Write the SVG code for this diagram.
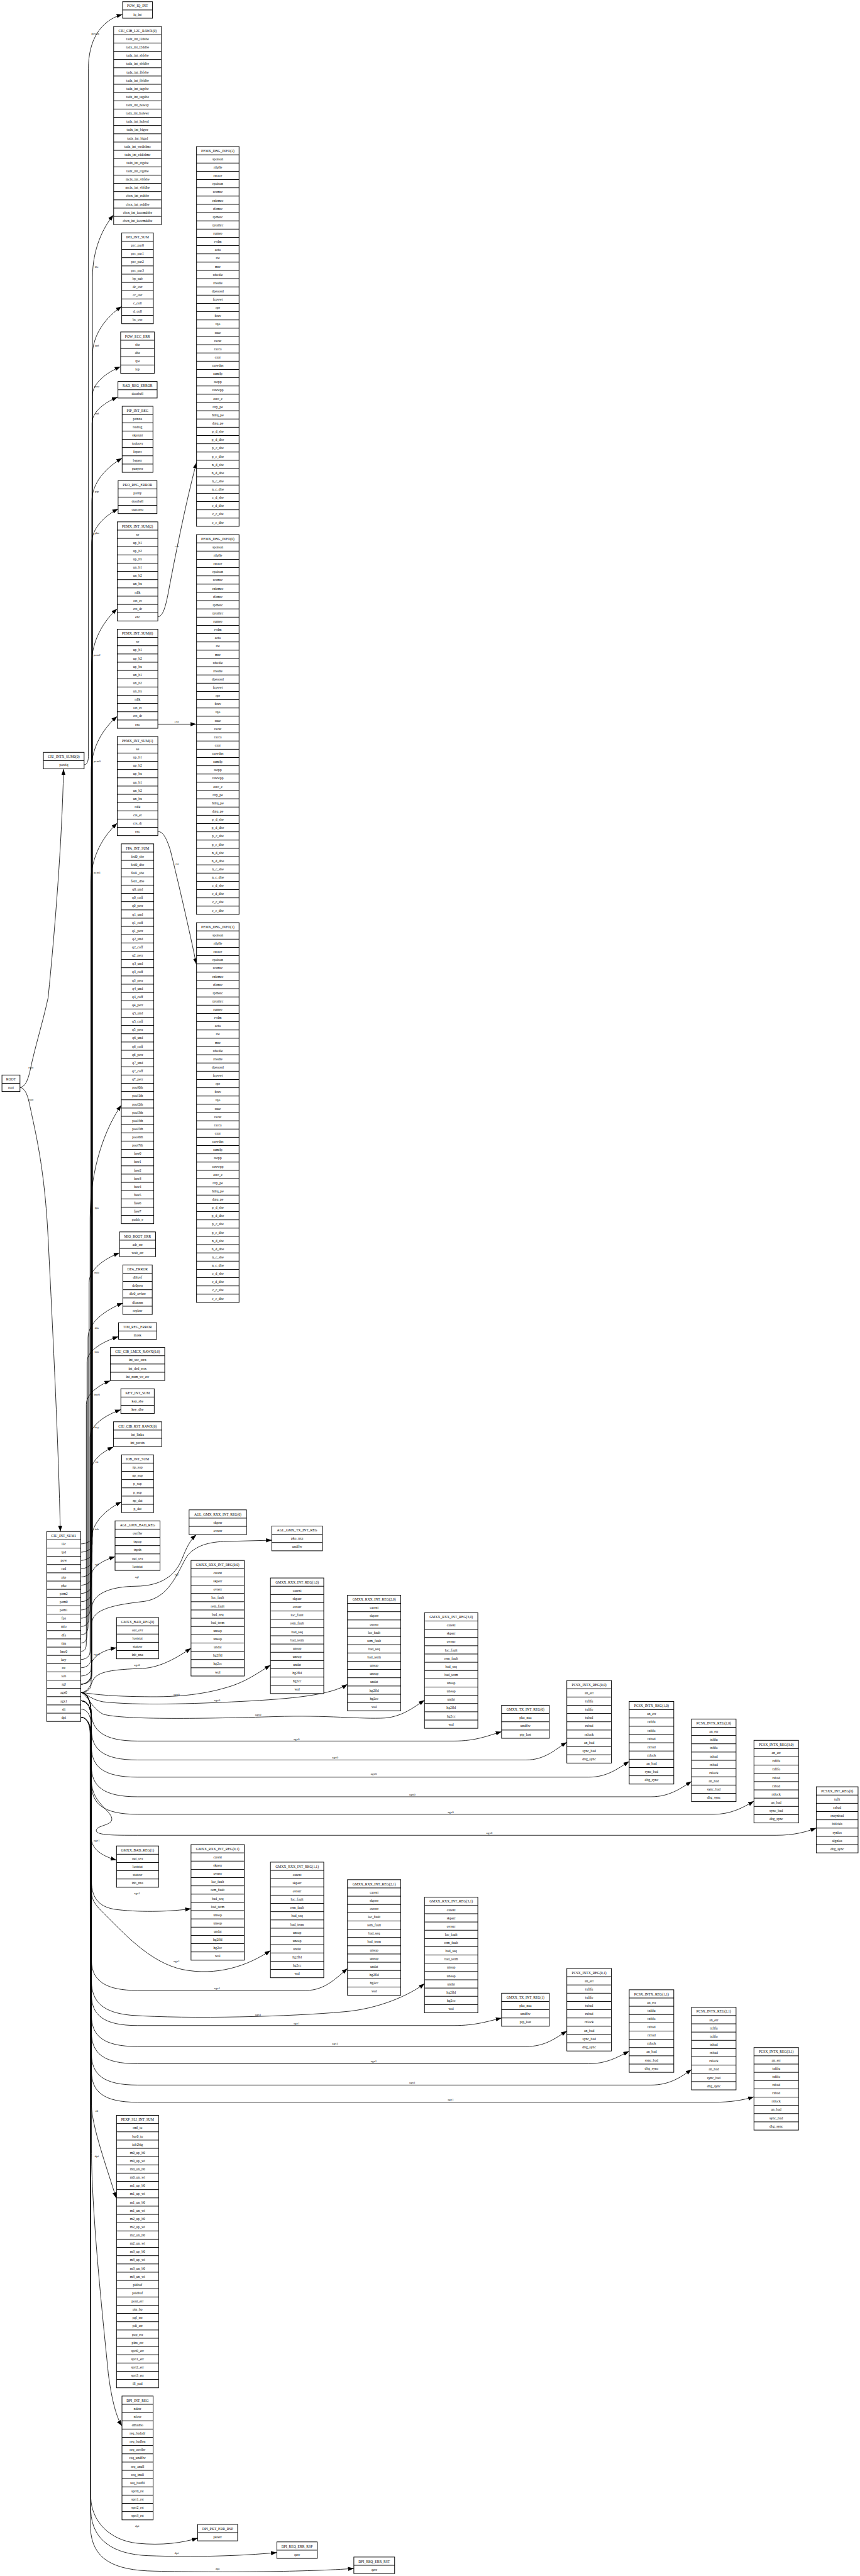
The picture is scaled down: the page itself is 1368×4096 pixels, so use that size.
<svg xmlns="http://www.w3.org/2000/svg" width="1368" height="4096" viewBox="0 0 1368 4096">
<style>
.b{fill:none;stroke:#000;stroke-width:1.8}
.f{fill:#fff;stroke:#000;stroke-width:1.8}
.e{fill:none;stroke:#000;stroke-width:1.5}
text{font-family:"Liberation Serif","Times New Roman",serif;font-size:10.3px;text-anchor:middle;fill:#000}
text.l{font-size:9px}
</style>
<defs>
<marker id="ah" markerUnits="userSpaceOnUse" markerWidth="17" markerHeight="12" refX="17" refY="6" orient="auto"><path d="M0,0L17,6L0,12z" fill="#000"/></marker>
</defs>
<rect width="1368" height="4096" fill="#fff"/>
<g transform="scale(0.547)">
<g id="edges">
<path class="e" marker-end="url(#ah)" d="M244.6,2223 C252,2223 257,2215 257,2198 L257,200 C257,120 290,60 356.2,42"/>
<path class="e" marker-end="url(#ah)" d="M58,3161 C72,3159 80,3145 88,3110 C100,3050 125,2970 140,2900 C160,2700 180,2450 184.8,2236"/>
<path class="e" marker-end="url(#ah)" d="M58,3161 C72,3163 80,3180 87,3215 C105,3300 130,3400 140,3600 C155,3900 170,4200 175.4,4452"/>
<path class="e" marker-end="url(#ah)" d="M234.7,4488 C246,4488 269,4482 269,4464 L269,806 C269,724.5 299.6,661 330.3,624.8"/>
<path class="e" marker-end="url(#ah)" d="M234.7,4512 C246,4512 268.5,4506 268.5,4488 L268.5,1035 C268.5,970.1 311.3,919.6 354,890.8"/>
<path class="e" marker-end="url(#ah)" d="M234.7,4536 C246,4536 268,4530 268,4512 L268,1153 C268,1113.8 309.3,1083.3 350.6,1065.9"/>
<path class="e" marker-end="url(#ah)" d="M234.7,4560 C246,4560 267.5,4554 267.5,4536 L267.5,1231 C267.5,1196.5 305,1169.6 342.4,1154.3"/>
<path class="e" marker-end="url(#ah)" d="M234.7,4584 C246,4584 267,4578 267,4560 L267,1458 C267,1401.3 311.2,1357.1 355.4,1331.9"/>
<path class="e" marker-end="url(#ah)" d="M234.7,4608 C246,4608 266.5,4602 266.5,4584 L266.5,1580 C266.5,1534.6 305.2,1499.3 343.8,1479.1"/>
<path class="e" marker-end="url(#ah)" d="M234.7,4632 C246,4632 266,4626 266,4608 L266,1934 C266,1860.1 303.5,1802.6 340.9,1769.8"/>
<path class="e" marker-end="url(#ah)" d="M234.7,4656 C246,4656 265,4650 265,4632 L265,2242 C265,2170.1 303.1,2114.2 341.2,2082.3"/>
<path class="e" marker-end="url(#ah)" d="M234.7,4680 C246,4680 264,4674 264,4656 L264,2567 C264,2488.6 302.6,2427.6 341.2,2392.8"/>
<path class="e" marker-end="url(#ah)" d="M234.7,4704 C246,4704 262,4698 262,4680 L262,3541 C262,3393.2 307.4,3278.2 352.7,3212.5"/>
<path class="e" marker-end="url(#ah)" d="M234.7,4728 C246,4728 259,4722 259,4704 L259,3729 C259,3689.8 303.3,3659.2 347.6,3641.8"/>
<path class="e" marker-end="url(#ah)" d="M234.7,4752 C246,4752 256,4746 256,4728 L256,3889 C256,3843.5 306.6,3808 357.2,3787.8"/>
<path class="e" marker-end="url(#ah)" d="M234.7,4776 C246,4776 253,4770 253,4752 L253,3959 C253,3925.9 298.7,3900.1 344.4,3885.4"/>
<path class="e" marker-end="url(#ah)" d="M234.7,4800 C246,4800 251,4794 251,4776 L251,4083 C251,4051.7 285.9,4027.4 320.8,4013.5"/>
<path class="e" marker-end="url(#ah)" d="M234.7,4824 C246,4824 262,4818 262,4800 L262,4178 C262,4141.9 306.7,4113.8 351.4,4097.7"/>
<path class="e" marker-end="url(#ah)" d="M234.7,4848 C246,4848 264,4842 264,4824 L264,4279 C264,4246.2 296.9,4220.7 329.7,4206.1"/>
<path class="e" marker-end="url(#ah)" d="M234.7,4872 C246,4872 266,4866 266,4848 L266,4475 C266,4425.8 309.7,4387.5 353.3,4365.6"/>
<path class="e" marker-end="url(#ah)" d="M234.7,4896 C246,4896 267,4890 267,4872 L267,4577 C267,4553.6 300.9,4535.4 334.8,4525"/>
<path class="e" marker-end="url(#ah)" d="M234.7,4896 C250,4896 266,4885 266,4862 L266,4680 C266,4632 320,4612 395,4611 C470,4610 510,4580 530,4530 C542,4500 552,4478 570.8,4461.3"/>
<path class="e" marker-end="url(#ah)" d="M234.7,4896 C250,4896 267,4885 267,4862 L267,4720 C267,4678 330,4665 420,4655 C490,4645 515,4575 540,4530 C560,4497 600,4483 650,4481 L790.8,4477.2"/>
<path class="e" marker-end="url(#ah)" d="M234.7,4920 C246,4920 265,4914 265,4896 L265,4845 C265,4815 300,4797 338.7,4789.7"/>
<path class="e" marker-end="url(#ah)" d="M234.7,4920 C250,4920 262,4905 270,4885 C282,4858 330,4853 414,4850 C470,4847 520,4815 555.5,4791"/>
<path class="e" marker-end="url(#ah)" d="M234.7,4920 C260,4922 300,4931 420,4932 C520,4934 600,4925 676,4900 C720,4885 755,4860 786.4,4840.7"/>
<path class="e" marker-end="url(#ah)" d="M234.7,4920 C252,4922 262,4940 300,4947 C400,4958 560,4953 700,4946 C850,4938 960,4928 1010.7,4896"/>
<path class="e" marker-end="url(#ah)" d="M234.7,4920 C252,4922 265,4965 300,4983 C360,5000 600,4996 800,4990 C950,4985 1050,4998 1120,4994 C1170,4990 1205,4962 1234.7,4942"/>
<path class="e" marker-end="url(#ah)" d="M234.7,4920 C252,4920 264,4940 265,4975 C266,5030 300,5061 400,5061 L1320,5061 C1385,5061 1420,5045 1458.7,5033.7"/>
<path class="e" marker-end="url(#ah)" d="M234.7,4920 C252,4920 264,4940 265,4980 L266,5030 C267,5085 300,5116 400,5116 L1530,5116 C1585,5116 1615,5085 1648.5,5064.3"/>
<path class="e" marker-end="url(#ah)" d="M234.7,4920 C252,4920 264,4940 265,4980 L266,5080 C267,5135 300,5166 400,5166 L1712,5166 C1765,5166 1795,5142 1829.7,5120.4"/>
<path class="e" marker-end="url(#ah)" d="M234.7,4920 C252,4920 264,4940 265,4980 L266,5137 C267,5192 300,5223 400,5223 L1893,5223 C1945,5223 1978,5200 2011.1,5178.3"/>
<path class="e" marker-end="url(#ah)" d="M234.7,4920 C252,4920 264,4940 265,4980 L266,5188 C267,5243 300,5274 400,5274 L2075,5274 C2125,5274 2160,5255 2192.4,5235.7"/>
<path class="e" marker-end="url(#ah)" d="M234.7,4920 C252,4920 264,4940 265,4980 L266,5180 C268,5240 322,5262 325,5286 C328,5308 278,5305 280,5322 C282,5335 330,5335 400,5335 L2257,5335 C2310,5335 2345,5325 2373.7,5313.8"/>
<path class="e" marker-end="url(#ah)" d="M234.7,4944 C252,4944 264,4960 265,4990 L265,5340 C266,5378 300,5396 338.7,5407"/>
<path class="e" marker-end="url(#ah)" d="M234.7,4944 C252,4944 264,4960 265,4990 L266,5470 C267,5520 290,5545 340,5551 C420,5560 500,5556 555.5,5548.6"/>
<path class="e" marker-end="url(#ah)" d="M234.7,4944 C252,4944 264,4960 265,4990 L266,5500 C267,5530 285,5545 310,5570 C370,5630 440,5705 530,5725 C630,5745 720,5715 786.4,5669.8"/>
<path class="e" marker-end="url(#ah)" d="M234.7,4944 C252,4944 264,4960 265,4990 L266,5700 C267,5760 310,5786 400,5786 L890,5786 C945,5786 980,5748 1010.7,5722"/>
<path class="e" marker-end="url(#ah)" d="M234.7,4944 C252,4944 264,4960 265,4990 L266,5760 C267,5820 300,5850 380,5858 C550,5870 850,5862 1000,5848 C1100,5840 1190,5800 1234.7,5766"/>
<path class="e" marker-end="url(#ah)" d="M234.7,4944 C252,4944 264,4960 265,4990 L266,5800 C267,5857 300,5888 400,5888 L1320,5888 C1385,5888 1420,5875 1458.7,5866.3"/>
<path class="e" marker-end="url(#ah)" d="M234.7,4944 C252,4944 264,4960 265,4990 L266,5860 C267,5918 300,5949 400,5949 L1530,5949 C1585,5949 1615,5925 1648.5,5903.8"/>
<path class="e" marker-end="url(#ah)" d="M234.7,4944 C252,4944 264,4960 265,4990 L266,5910 C267,5968 300,5999 400,5999 L1712,5999 C1765,5999 1795,5980 1829.7,5962.7"/>
<path class="e" marker-end="url(#ah)" d="M234.7,4944 C252,4944 264,4960 265,4990 L266,5972 C267,6030 300,6061 400,6061 L1893,6061 C1945,6061 1978,6040 2011.1,6015.6"/>
<path class="e" marker-end="url(#ah)" d="M234.7,4944 C252,4944 264,4960 265,4990 L266,6022 C267,6080 300,6111 400,6111 L2075,6111 C2125,6111 2160,6105 2192.4,6095.2"/>
<path class="e" marker-end="url(#ah)" d="M234.7,4968 C252,4968 264,4985 265,5010 L266,6120 C267,6180 310,6300 338,6389.8"/>
<path class="e" marker-end="url(#ah)" d="M234.7,4992 C252,4992 264,5010 265,5040 L266,6260 C268,6450 300,6750 315,6900 C325,6980 340,7030 354.9,7052"/>
<path class="e" marker-end="url(#ah)" d="M234.7,4992 C252,4992 263,5010 264,5040 L264,7260 C266,7330 320,7385 400,7393 C470,7400 530,7392 574.9,7378"/>
<path class="e" marker-end="url(#ah)" d="M234.7,4992 C252,4992 262,5010 263,5040 L264,7300 C268,7385 330,7425 430,7429 C560,7434 700,7430 805.1,7420"/>
<path class="e" marker-end="url(#ah)" d="M234.7,4992 C252,4992 261,5010 262,5040 L263,7350 C268,7440 330,7472 450,7474 C650,7478 900,7476 1029,7466.2"/>
<path class="e" marker-end="url(#ah)" d="M458.7,1793 C472,1793 480,1770 488,1730 C505,1640 540,1460 571.6,1344.3"/>
<path class="e" marker-end="url(#ah)" d="M458.5,2105 L571,2105"/>
<path class="e" marker-end="url(#ah)" d="M458.5,2417 C472,2417 482,2430 495,2470 C515,2550 550,2700 571,2803"/>
<text class="l" x="277" y="100">powiq</text>
<text class="l" x="90" y="3106">root</text>
<text class="l" x="90" y="3200">root</text>
<text class="l" x="281" y="779">l2c</text>
<text class="l" x="281.8" y="1008">ipd</text>
<text class="l" x="281.8" y="1126">pow</text>
<text class="l" x="281.8" y="1204">rad</text>
<text class="l" x="281.8" y="1431">pip</text>
<text class="l" x="281.8" y="1553">pko</text>
<text class="l" x="281.8" y="1907">pem2</text>
<text class="l" x="282.5" y="2215">pem0</text>
<text class="l" x="282.5" y="2540">pem1</text>
<text class="l" x="514.4" y="1591">exc</text>
<text class="l" x="514" y="2100">exc</text>
<text class="l" x="514" y="2514">exc</text>
<text class="l" x="281.3" y="3514">fpa</text>
<text class="l" x="281.3" y="3702">mio</text>
<text class="l" x="281.3" y="3862">dfa</text>
<text class="l" x="281.3" y="3932">tim</text>
<text class="l" x="281.3" y="4056">lmc0</text>
<text class="l" x="281.3" y="4151">key</text>
<text class="l" x="281.3" y="4252">rst</text>
<text class="l" x="281.3" y="4448">iob</text>
<text class="l" x="281.3" y="4550">agl</text>
<text class="l" x="398" y="4586">agl</text>
<text class="l" x="513.4" y="4579">agl</text>
<text class="l" x="281.3" y="4812">agx0</text>
<text class="l" x="398.6" y="4842">agx0</text>
<text class="l" x="513.4" y="4928">agx0</text>
<text class="l" x="631.4" y="4946">agx0</text>
<text class="l" x="750.7" y="4987">agx0</text>
<text class="l" x="862.3" y="5058">agx0</text>
<text class="l" x="974.6" y="5112">agx0</text>
<text class="l" x="1086.7" y="5159">agx0</text>
<text class="l" x="1199" y="5219">agx0</text>
<text class="l" x="1310.7" y="5270">agx0</text>
<text class="l" x="1423" y="5331">agx0</text>
<text class="l" x="281.3" y="5352">agx1</text>
<text class="l" x="398.6" y="5506">agx1</text>
<text class="l" x="513.4" y="5703">agx1</text>
<text class="l" x="631.4" y="5782">agx1</text>
<text class="l" x="750.7" y="5860">agx1</text>
<text class="l" x="862.3" y="5885">agx1</text>
<text class="l" x="974.6" y="5944">agx1</text>
<text class="l" x="1086.7" y="5995">agx1</text>
<text class="l" x="1199" y="6056">agx1</text>
<text class="l" x="1310.7" y="6106">agx1</text>
<text class="l" x="281.3" y="6139">sli</text>
<text class="l" x="281.3" y="6271">dpi</text>
<text class="l" x="398.9" y="7346">dpi</text>
<text class="l" x="513.7" y="7424">dpi</text>
<text class="l" x="633" y="7470">dpi</text>
</g>

<g id="n_ROOT" transform="translate(31.9,3125)"><rect class="f" x="-26.2" width="52.4" height="48"/><path class="b" d="M-26.2,24h52.4"/><text y="16">ROOT</text><text y="40">root</text></g>

<g id="n_CIU_INTX_SUM0_0" transform="translate(185.4,2187)"><rect class="f" x="-59.2" width="118.4" height="48"/><path class="b" d="M-59.2,24h118.4"/><text y="16">CIU_INTX_SUM0(0)</text><text y="40">powiq</text></g>

<g id="n_CIU_INT_SUM1" transform="translate(185.3,4452)"><rect class="f" x="-49.4" width="98.8" height="552"/><path class="b" d="M-49.4,24h98.8m-98.8,24h98.8m-98.8,24h98.8m-98.8,24h98.8m-98.8,24h98.8m-98.8,24h98.8m-98.8,24h98.8m-98.8,24h98.8m-98.8,24h98.8m-98.8,24h98.8m-98.8,24h98.8m-98.8,24h98.8m-98.8,24h98.8m-98.8,24h98.8m-98.8,24h98.8m-98.8,24h98.8m-98.8,24h98.8m-98.8,24h98.8m-98.8,24h98.8m-98.8,24h98.8m-98.8,24h98.8m-98.8,24h98.8"/><text y="16">CIU_INT_SUM1</text><text y="40">l2c</text><text y="64">ipd</text><text y="88">pow</text><text y="112">rad</text><text y="136">pip</text><text y="160">pko</text><text y="184">pem2</text><text y="208">pem0</text><text y="232">pem1</text><text y="256">fpa</text><text y="280">mio</text><text y="304">dfa</text><text y="328">tim</text><text y="352">lmc0</text><text y="376">key</text><text y="400">rst</text><text y="424">iob</text><text y="448">agl</text><text y="472">agx0</text><text y="496">agx1</text><text y="520">sli</text><text y="544">dpi</text></g>

<g id="n_POW_IQ_INT" transform="translate(400,5)"><rect class="f" x="-43.5" width="87" height="48"/><path class="b" d="M-43.5,24h87"/><text y="16">POW_IQ_INT</text><text y="40">iq_int</text></g>

<g id="n_CIU_CIB_L2C_RAWX_0" transform="translate(400,77)"><rect class="f" x="-69.5" width="139" height="576"/><path class="b" d="M-69.5,24h139m-139,24h139m-139,24h139m-139,24h139m-139,24h139m-139,24h139m-139,24h139m-139,24h139m-139,24h139m-139,24h139m-139,24h139m-139,24h139m-139,24h139m-139,24h139m-139,24h139m-139,24h139m-139,24h139m-139,24h139m-139,24h139m-139,24h139m-139,24h139m-139,24h139m-139,24h139"/><text y="16">CIU_CIB_L2C_RAWX(0)</text><text y="40">tadx_int_l2dsbe</text><text y="64">tadx_int_l2ddbe</text><text y="88">tadx_int_sbfsbe</text><text y="112">tadx_int_sbfdbe</text><text y="136">tadx_int_fbfsbe</text><text y="160">tadx_int_fbfdbe</text><text y="184">tadx_int_tagsbe</text><text y="208">tadx_int_tagdbe</text><text y="232">tadx_int_noway</text><text y="256">tadx_int_holewr</text><text y="280">tadx_int_holerd</text><text y="304">tadx_int_bigwr</text><text y="328">tadx_int_bigrd</text><text y="352">tadx_int_wrdislmc</text><text y="376">tadx_int_rddislmc</text><text y="400">tadx_int_rtgsbe</text><text y="424">tadx_int_rtgdbe</text><text y="448">mcix_int_vbfsbe</text><text y="472">mcix_int_vbfdbe</text><text y="496">cbcx_int_rsdsbe</text><text y="520">cbcx_int_rsddbe</text><text y="544">cbcx_int_ioccmdsbe</text><text y="568">cbcx_int_ioccmddbe</text></g>

<g id="n_IPD_INT_SUM" transform="translate(400,677)"><rect class="f" x="-46" width="92" height="264"/><path class="b" d="M-46,24h92m-92,24h92m-92,24h92m-92,24h92m-92,24h92m-92,24h92m-92,24h92m-92,24h92m-92,24h92m-92,24h92"/><text y="16">IPD_INT_SUM</text><text y="40">prc_par0</text><text y="64">prc_par1</text><text y="88">prc_par2</text><text y="112">prc_par3</text><text y="136">bp_sub</text><text y="160">dc_ovr</text><text y="184">cc_ovr</text><text y="208">c_coll</text><text y="232">d_coll</text><text y="256">bc_ovr</text></g>

<g id="n_POW_ECC_ERR" transform="translate(400,965)"><rect class="f" x="-49.2" width="98.4" height="120"/><path class="b" d="M-49.2,24h98.4m-98.4,24h98.4m-98.4,24h98.4m-98.4,24h98.4"/><text y="16">POW_ECC_ERR</text><text y="40">sbe</text><text y="64">dbe</text><text y="88">rpe</text><text y="112">iop</text></g>

<g id="n_RAD_REG_ERROR" transform="translate(400,1109)"><rect class="f" x="-57" width="114" height="48"/><path class="b" d="M-57,24h114"/><text y="16">RAD_REG_ERROR</text><text y="40">doorbell</text></g>

<g id="n_PIP_INT_REG" transform="translate(400,1181)"><rect class="f" x="-44.8" width="89.6" height="192"/><path class="b" d="M-44.8,24h89.6m-89.6,24h89.6m-89.6,24h89.6m-89.6,24h89.6m-89.6,24h89.6m-89.6,24h89.6m-89.6,24h89.6"/><text y="16">PIP_INT_REG</text><text y="40">prtnxa</text><text y="64">badtag</text><text y="88">skprunt</text><text y="112">todoovr</text><text y="136">feperr</text><text y="160">beperr</text><text y="184">punyerr</text></g>

<g id="n_PKO_REG_ERROR" transform="translate(400,1397)"><rect class="f" x="-56.5" width="113" height="96"/><path class="b" d="M-56.5,24h113m-113,24h113m-113,24h113"/><text y="16">PKO_REG_ERROR</text><text y="40">parity</text><text y="64">doorbell</text><text y="88">currzero</text></g>

<g id="n_PEMX_INT_SUM_2" transform="translate(400,1517)"><rect class="f" x="-59" width="118" height="288"/><path class="b" d="M-59,24h118m-118,24h118m-118,24h118m-118,24h118m-118,24h118m-118,24h118m-118,24h118m-118,24h118m-118,24h118m-118,24h118m-118,24h118"/><text y="16">PEMX_INT_SUM(2)</text><text y="40">se</text><text y="64">up_b1</text><text y="88">up_b2</text><text y="112">up_bx</text><text y="136">un_b1</text><text y="160">un_b2</text><text y="184">un_bx</text><text y="208">rdlk</text><text y="232">crs_er</text><text y="256">crs_dr</text><text y="280">exc</text></g>

<g id="n_PEMX_INT_SUM_0" transform="translate(400,1829)"><rect class="f" x="-59" width="118" height="288"/><path class="b" d="M-59,24h118m-118,24h118m-118,24h118m-118,24h118m-118,24h118m-118,24h118m-118,24h118m-118,24h118m-118,24h118m-118,24h118m-118,24h118"/><text y="16">PEMX_INT_SUM(0)</text><text y="40">se</text><text y="64">up_b1</text><text y="88">up_b2</text><text y="112">up_bx</text><text y="136">un_b1</text><text y="160">un_b2</text><text y="184">un_bx</text><text y="208">rdlk</text><text y="232">crs_er</text><text y="256">crs_dr</text><text y="280">exc</text></g>

<g id="n_PEMX_INT_SUM_1" transform="translate(400,2141)"><rect class="f" x="-59" width="118" height="288"/><path class="b" d="M-59,24h118m-118,24h118m-118,24h118m-118,24h118m-118,24h118m-118,24h118m-118,24h118m-118,24h118m-118,24h118m-118,24h118m-118,24h118"/><text y="16">PEMX_INT_SUM(1)</text><text y="40">se</text><text y="64">up_b1</text><text y="88">up_b2</text><text y="112">up_bx</text><text y="136">un_b1</text><text y="160">un_b2</text><text y="184">un_bx</text><text y="208">rdlk</text><text y="232">crs_er</text><text y="256">crs_dr</text><text y="280">exc</text></g>

<g id="n_FPA_INT_SUM" transform="translate(400,2453)"><rect class="f" x="-47.2" width="94.4" height="1104"/><path class="b" d="M-47.2,24h94.4m-94.4,24h94.4m-94.4,24h94.4m-94.4,24h94.4m-94.4,24h94.4m-94.4,24h94.4m-94.4,24h94.4m-94.4,24h94.4m-94.4,24h94.4m-94.4,24h94.4m-94.4,24h94.4m-94.4,24h94.4m-94.4,24h94.4m-94.4,24h94.4m-94.4,24h94.4m-94.4,24h94.4m-94.4,24h94.4m-94.4,24h94.4m-94.4,24h94.4m-94.4,24h94.4m-94.4,24h94.4m-94.4,24h94.4m-94.4,24h94.4m-94.4,24h94.4m-94.4,24h94.4m-94.4,24h94.4m-94.4,24h94.4m-94.4,24h94.4m-94.4,24h94.4m-94.4,24h94.4m-94.4,24h94.4m-94.4,24h94.4m-94.4,24h94.4m-94.4,24h94.4m-94.4,24h94.4m-94.4,24h94.4m-94.4,24h94.4m-94.4,24h94.4m-94.4,24h94.4m-94.4,24h94.4m-94.4,24h94.4m-94.4,24h94.4m-94.4,24h94.4m-94.4,24h94.4m-94.4,24h94.4"/><text y="16">FPA_INT_SUM</text><text y="40">fed0_sbe</text><text y="64">fed0_dbe</text><text y="88">fed1_sbe</text><text y="112">fed1_dbe</text><text y="136">q0_und</text><text y="160">q0_coff</text><text y="184">q0_perr</text><text y="208">q1_und</text><text y="232">q1_coff</text><text y="256">q1_perr</text><text y="280">q2_und</text><text y="304">q2_coff</text><text y="328">q2_perr</text><text y="352">q3_und</text><text y="376">q3_coff</text><text y="400">q3_perr</text><text y="424">q4_und</text><text y="448">q4_coff</text><text y="472">q4_perr</text><text y="496">q5_und</text><text y="520">q5_coff</text><text y="544">q5_perr</text><text y="568">q6_und</text><text y="592">q6_coff</text><text y="616">q6_perr</text><text y="640">q7_und</text><text y="664">q7_coff</text><text y="688">q7_perr</text><text y="712">pool0th</text><text y="736">pool1th</text><text y="760">pool2th</text><text y="784">pool3th</text><text y="808">pool4th</text><text y="832">pool5th</text><text y="856">pool6th</text><text y="880">pool7th</text><text y="904">free0</text><text y="928">free1</text><text y="952">free2</text><text y="976">free3</text><text y="1000">free4</text><text y="1024">free5</text><text y="1048">free6</text><text y="1072">free7</text><text y="1096">paddr_e</text></g>

<g id="n_MIO_BOOT_ERR" transform="translate(400,3581)"><rect class="f" x="-52.3" width="104.6" height="72"/><path class="b" d="M-52.3,24h104.6m-104.6,24h104.6"/><text y="16">MIO_BOOT_ERR</text><text y="40">adr_err</text><text y="64">wait_err</text></g>

<g id="n_DFA_ERROR" transform="translate(400,3677)"><rect class="f" x="-42.7" width="85.4" height="144"/><path class="b" d="M-42.7,24h85.4m-85.4,24h85.4m-85.4,24h85.4m-85.4,24h85.4m-85.4,24h85.4"/><text y="16">DFA_ERROR</text><text y="40">dblovf</text><text y="64">dc0perr</text><text y="88">dlc0_ovferr</text><text y="112">dfanxm</text><text y="136">replerr</text></g>

<g id="n_TIM_REG_ERROR" transform="translate(400,3845)"><rect class="f" x="-55.5" width="111" height="48"/><path class="b" d="M-55.5,24h111"/><text y="16">TIM_REG_ERROR</text><text y="40">mask</text></g>

<g id="n_CIU_CIB_LMCX_RAWX_0_0" transform="translate(400,3917)"><rect class="f" x="-79" width="158" height="96"/><path class="b" d="M-79,24h158m-158,24h158m-158,24h158"/><text y="16">CIU_CIB_LMCX_RAWX(0,0)</text><text y="40">int_sec_errx</text><text y="64">int_ded_errx</text><text y="88">int_nxm_wr_err</text></g>

<g id="n_KEY_INT_SUM" transform="translate(400,4037)"><rect class="f" x="-48.5" width="97" height="72"/><path class="b" d="M-48.5,24h97m-97,24h97"/><text y="16">KEY_INT_SUM</text><text y="40">key_sbe</text><text y="64">key_dbe</text></g>

<g id="n_CIU_CIB_RST_RAWX_0" transform="translate(400,4133)"><rect class="f" x="-70.2" width="140.4" height="72"/><path class="b" d="M-70.2,24h140.4m-140.4,24h140.4"/><text y="16">CIU_CIB_RST_RAWX(0)</text><text y="40">int_linkx</text><text y="64">int_perstx</text></g>

<g id="n_IOB_INT_SUM" transform="translate(400,4229)"><rect class="f" x="-46.5" width="93" height="168"/><path class="b" d="M-46.5,24h93m-93,24h93m-93,24h93m-93,24h93m-93,24h93m-93,24h93"/><text y="16">IOB_INT_SUM</text><text y="40">np_sop</text><text y="64">np_eop</text><text y="88">p_sop</text><text y="112">p_eop</text><text y="136">np_dat</text><text y="160">p_dat</text></g>

<g id="n_AGL_GMX_BAD_REG" transform="translate(400,4421)"><rect class="f" x="-65.4" width="130.8" height="144"/><path class="b" d="M-65.4,24h130.8m-130.8,24h130.8m-130.8,24h130.8m-130.8,24h130.8m-130.8,24h130.8"/><text y="16">AGL_GMX_BAD_REG</text><text y="40">ovrflw</text><text y="64">txpop</text><text y="88">txpsh</text><text y="112">out_ovr</text><text y="136">loststat</text></g>

<g id="n_GMXX_BAD_REG_0" transform="translate(400,4702)"><rect class="f" x="-61.2" width="122.4" height="120"/><path class="b" d="M-61.2,24h122.4m-122.4,24h122.4m-122.4,24h122.4m-122.4,24h122.4"/><text y="16">GMXX_BAD_REG(0)</text><text y="40">out_ovr</text><text y="64">loststat</text><text y="88">statovr</text><text y="112">inb_nxa</text></g>

<g id="n_GMXX_BAD_REG_1" transform="translate(400,5366)"><rect class="f" x="-61.2" width="122.4" height="120"/><path class="b" d="M-61.2,24h122.4m-122.4,24h122.4m-122.4,24h122.4m-122.4,24h122.4"/><text y="16">GMXX_BAD_REG(1)</text><text y="40">out_ovr</text><text y="64">loststat</text><text y="88">statovr</text><text y="112">inb_nxa</text></g>

<g id="n_PEXP_SLI_INT_SUM" transform="translate(400,6149)"><rect class="f" x="-61.2" width="122.4" height="792"/><path class="b" d="M-61.2,24h122.4m-122.4,24h122.4m-122.4,24h122.4m-122.4,24h122.4m-122.4,24h122.4m-122.4,24h122.4m-122.4,24h122.4m-122.4,24h122.4m-122.4,24h122.4m-122.4,24h122.4m-122.4,24h122.4m-122.4,24h122.4m-122.4,24h122.4m-122.4,24h122.4m-122.4,24h122.4m-122.4,24h122.4m-122.4,24h122.4m-122.4,24h122.4m-122.4,24h122.4m-122.4,24h122.4m-122.4,24h122.4m-122.4,24h122.4m-122.4,24h122.4m-122.4,24h122.4m-122.4,24h122.4m-122.4,24h122.4m-122.4,24h122.4m-122.4,24h122.4m-122.4,24h122.4m-122.4,24h122.4m-122.4,24h122.4m-122.4,24h122.4"/><text y="16">PEXP_SLI_INT_SUM</text><text y="40">rml_to</text><text y="64">bar0_to</text><text y="88">iob2big</text><text y="112">m0_up_b0</text><text y="136">m0_up_wi</text><text y="160">m0_un_b0</text><text y="184">m0_un_wi</text><text y="208">m1_up_b0</text><text y="232">m1_up_wi</text><text y="256">m1_un_b0</text><text y="280">m1_un_wi</text><text y="304">m2_up_b0</text><text y="328">m2_up_wi</text><text y="352">m2_un_b0</text><text y="376">m2_un_wi</text><text y="400">m3_up_b0</text><text y="424">m3_up_wi</text><text y="448">m3_un_b0</text><text y="472">m3_un_wi</text><text y="496">pidbof</text><text y="520">psldbof</text><text y="544">pout_err</text><text y="568">pin_bp</text><text y="592">pgl_err</text><text y="616">pdi_err</text><text y="640">pop_err</text><text y="664">pins_err</text><text y="688">sprt0_err</text><text y="712">sprt1_err</text><text y="736">sprt2_err</text><text y="760">sprt3_err</text><text y="784">ill_pad</text></g>

<g id="n_DPI_INT_REG" transform="translate(400,6965)"><rect class="f" x="-45.3" width="90.6" height="360"/><path class="b" d="M-45.3,24h90.6m-90.6,24h90.6m-90.6,24h90.6m-90.6,24h90.6m-90.6,24h90.6m-90.6,24h90.6m-90.6,24h90.6m-90.6,24h90.6m-90.6,24h90.6m-90.6,24h90.6m-90.6,24h90.6m-90.6,24h90.6m-90.6,24h90.6m-90.6,24h90.6"/><text y="16">DPI_INT_REG</text><text y="40">nderr</text><text y="64">nfovr</text><text y="88">dmadbo</text><text y="112">req_badadr</text><text y="136">req_badlen</text><text y="160">req_ovrflw</text><text y="184">req_undflw</text><text y="208">req_anull</text><text y="232">req_inull</text><text y="256">req_badfil</text><text y="280">sprt0_rst</text><text y="304">sprt1_rst</text><text y="328">sprt2_rst</text><text y="352">sprt3_rst</text></g>

<g id="n_PEMX_DBG_INFO_2" transform="translate(633.4,426)"><rect class="f" x="-61.8" width="123.6" height="1104"/><path class="b" d="M-61.8,24h123.6m-123.6,24h123.6m-123.6,24h123.6m-123.6,24h123.6m-123.6,24h123.6m-123.6,24h123.6m-123.6,24h123.6m-123.6,24h123.6m-123.6,24h123.6m-123.6,24h123.6m-123.6,24h123.6m-123.6,24h123.6m-123.6,24h123.6m-123.6,24h123.6m-123.6,24h123.6m-123.6,24h123.6m-123.6,24h123.6m-123.6,24h123.6m-123.6,24h123.6m-123.6,24h123.6m-123.6,24h123.6m-123.6,24h123.6m-123.6,24h123.6m-123.6,24h123.6m-123.6,24h123.6m-123.6,24h123.6m-123.6,24h123.6m-123.6,24h123.6m-123.6,24h123.6m-123.6,24h123.6m-123.6,24h123.6m-123.6,24h123.6m-123.6,24h123.6m-123.6,24h123.6m-123.6,24h123.6m-123.6,24h123.6m-123.6,24h123.6m-123.6,24h123.6m-123.6,24h123.6m-123.6,24h123.6m-123.6,24h123.6m-123.6,24h123.6m-123.6,24h123.6m-123.6,24h123.6m-123.6,24h123.6"/><text y="16">PEMX_DBG_INFO(2)</text><text y="40">spoison</text><text y="64">rtlplle</text><text y="88">recrce</text><text y="112">rpoison</text><text y="136">rcemrc</text><text y="160">rnfemrc</text><text y="184">rfemrc</text><text y="208">rpmerc</text><text y="232">rptamrc</text><text y="256">rumep</text><text y="280">rvdm</text><text y="304">acto</text><text y="328">rte</text><text y="352">mre</text><text y="376">rdwdle</text><text y="400">rtwdle</text><text y="424">dpeoosd</text><text y="448">fcpvwt</text><text y="472">rpe</text><text y="496">fcuv</text><text y="520">rqo</text><text y="544">rauc</text><text y="568">racur</text><text y="592">racca</text><text y="616">caar</text><text y="640">rarwdns</text><text y="664">ramtlp</text><text y="688">racpp</text><text y="712">rawwpp</text><text y="736">ecrc_e</text><text y="760">rtry_pe</text><text y="784">hdrq_pe</text><text y="808">datq_pe</text><text y="832">p_d_sbe</text><text y="856">p_d_dbe</text><text y="880">p_c_sbe</text><text y="904">p_c_dbe</text><text y="928">n_d_sbe</text><text y="952">n_d_dbe</text><text y="976">n_c_sbe</text><text y="1000">n_c_dbe</text><text y="1024">c_d_sbe</text><text y="1048">c_d_dbe</text><text y="1072">c_c_sbe</text><text y="1096">c_c_dbe</text></g>

<g id="n_PEMX_DBG_INFO_0" transform="translate(633.4,1554)"><rect class="f" x="-61.8" width="123.6" height="1104"/><path class="b" d="M-61.8,24h123.6m-123.6,24h123.6m-123.6,24h123.6m-123.6,24h123.6m-123.6,24h123.6m-123.6,24h123.6m-123.6,24h123.6m-123.6,24h123.6m-123.6,24h123.6m-123.6,24h123.6m-123.6,24h123.6m-123.6,24h123.6m-123.6,24h123.6m-123.6,24h123.6m-123.6,24h123.6m-123.6,24h123.6m-123.6,24h123.6m-123.6,24h123.6m-123.6,24h123.6m-123.6,24h123.6m-123.6,24h123.6m-123.6,24h123.6m-123.6,24h123.6m-123.6,24h123.6m-123.6,24h123.6m-123.6,24h123.6m-123.6,24h123.6m-123.6,24h123.6m-123.6,24h123.6m-123.6,24h123.6m-123.6,24h123.6m-123.6,24h123.6m-123.6,24h123.6m-123.6,24h123.6m-123.6,24h123.6m-123.6,24h123.6m-123.6,24h123.6m-123.6,24h123.6m-123.6,24h123.6m-123.6,24h123.6m-123.6,24h123.6m-123.6,24h123.6m-123.6,24h123.6m-123.6,24h123.6m-123.6,24h123.6"/><text y="16">PEMX_DBG_INFO(0)</text><text y="40">spoison</text><text y="64">rtlplle</text><text y="88">recrce</text><text y="112">rpoison</text><text y="136">rcemrc</text><text y="160">rnfemrc</text><text y="184">rfemrc</text><text y="208">rpmerc</text><text y="232">rptamrc</text><text y="256">rumep</text><text y="280">rvdm</text><text y="304">acto</text><text y="328">rte</text><text y="352">mre</text><text y="376">rdwdle</text><text y="400">rtwdle</text><text y="424">dpeoosd</text><text y="448">fcpvwt</text><text y="472">rpe</text><text y="496">fcuv</text><text y="520">rqo</text><text y="544">rauc</text><text y="568">racur</text><text y="592">racca</text><text y="616">caar</text><text y="640">rarwdns</text><text y="664">ramtlp</text><text y="688">racpp</text><text y="712">rawwpp</text><text y="736">ecrc_e</text><text y="760">rtry_pe</text><text y="784">hdrq_pe</text><text y="808">datq_pe</text><text y="832">p_d_sbe</text><text y="856">p_d_dbe</text><text y="880">p_c_sbe</text><text y="904">p_c_dbe</text><text y="928">n_d_sbe</text><text y="952">n_d_dbe</text><text y="976">n_c_sbe</text><text y="1000">n_c_dbe</text><text y="1024">c_d_sbe</text><text y="1048">c_d_dbe</text><text y="1072">c_c_sbe</text><text y="1096">c_c_dbe</text></g>

<g id="n_PEMX_DBG_INFO_1" transform="translate(633.4,2682)"><rect class="f" x="-61.8" width="123.6" height="1104"/><path class="b" d="M-61.8,24h123.6m-123.6,24h123.6m-123.6,24h123.6m-123.6,24h123.6m-123.6,24h123.6m-123.6,24h123.6m-123.6,24h123.6m-123.6,24h123.6m-123.6,24h123.6m-123.6,24h123.6m-123.6,24h123.6m-123.6,24h123.6m-123.6,24h123.6m-123.6,24h123.6m-123.6,24h123.6m-123.6,24h123.6m-123.6,24h123.6m-123.6,24h123.6m-123.6,24h123.6m-123.6,24h123.6m-123.6,24h123.6m-123.6,24h123.6m-123.6,24h123.6m-123.6,24h123.6m-123.6,24h123.6m-123.6,24h123.6m-123.6,24h123.6m-123.6,24h123.6m-123.6,24h123.6m-123.6,24h123.6m-123.6,24h123.6m-123.6,24h123.6m-123.6,24h123.6m-123.6,24h123.6m-123.6,24h123.6m-123.6,24h123.6m-123.6,24h123.6m-123.6,24h123.6m-123.6,24h123.6m-123.6,24h123.6m-123.6,24h123.6m-123.6,24h123.6m-123.6,24h123.6m-123.6,24h123.6m-123.6,24h123.6"/><text y="16">PEMX_DBG_INFO(1)</text><text y="40">spoison</text><text y="64">rtlplle</text><text y="88">recrce</text><text y="112">rpoison</text><text y="136">rcemrc</text><text y="160">rnfemrc</text><text y="184">rfemrc</text><text y="208">rpmerc</text><text y="232">rptamrc</text><text y="256">rumep</text><text y="280">rvdm</text><text y="304">acto</text><text y="328">rte</text><text y="352">mre</text><text y="376">rdwdle</text><text y="400">rtwdle</text><text y="424">dpeoosd</text><text y="448">fcpvwt</text><text y="472">rpe</text><text y="496">fcuv</text><text y="520">rqo</text><text y="544">rauc</text><text y="568">racur</text><text y="592">racca</text><text y="616">caar</text><text y="640">rarwdns</text><text y="664">ramtlp</text><text y="688">racpp</text><text y="712">rawwpp</text><text y="736">ecrc_e</text><text y="760">rtry_pe</text><text y="784">hdrq_pe</text><text y="808">datq_pe</text><text y="832">p_d_sbe</text><text y="856">p_d_dbe</text><text y="880">p_c_sbe</text><text y="904">p_c_dbe</text><text y="928">n_d_sbe</text><text y="952">n_d_dbe</text><text y="976">n_c_sbe</text><text y="1000">n_c_dbe</text><text y="1024">c_d_sbe</text><text y="1048">c_d_dbe</text><text y="1072">c_c_sbe</text><text y="1096">c_c_dbe</text></g>

<g id="n_AGL_GMX_RXX_INT_REG_0" transform="translate(633.4,4389)"><rect class="f" x="-83.5" width="167" height="72"/><path class="b" d="M-83.5,24h167m-167,24h167"/><text y="16">AGL_GMX_RXX_INT_REG(0)</text><text y="40">skperr</text><text y="64">ovrerr</text></g>

<g id="n_GMXX_RXX_INT_REG_0_0" transform="translate(633,4536)"><rect class="f" x="-77.5" width="155" height="336"/><path class="b" d="M-77.5,24h155m-155,24h155m-155,24h155m-155,24h155m-155,24h155m-155,24h155m-155,24h155m-155,24h155m-155,24h155m-155,24h155m-155,24h155m-155,24h155m-155,24h155"/><text y="16">GMXX_RXX_INT_REG(0,0)</text><text y="40">carext</text><text y="64">skperr</text><text y="88">ovrerr</text><text y="112">loc_fault</text><text y="136">rem_fault</text><text y="160">bad_seq</text><text y="184">bad_term</text><text y="208">unsop</text><text y="232">uneop</text><text y="256">undat</text><text y="280">hg2fld</text><text y="304">hg2cc</text><text y="328">wol</text></g>

<g id="n_GMXX_RXX_INT_REG_0_1" transform="translate(633,5362)"><rect class="f" x="-77.5" width="155" height="336"/><path class="b" d="M-77.5,24h155m-155,24h155m-155,24h155m-155,24h155m-155,24h155m-155,24h155m-155,24h155m-155,24h155m-155,24h155m-155,24h155m-155,24h155m-155,24h155m-155,24h155"/><text y="16">GMXX_RXX_INT_REG(0,1)</text><text y="40">carext</text><text y="64">skperr</text><text y="88">ovrerr</text><text y="112">loc_fault</text><text y="136">rem_fault</text><text y="160">bad_seq</text><text y="184">bad_term</text><text y="208">unsop</text><text y="232">uneop</text><text y="256">undat</text><text y="280">hg2fld</text><text y="304">hg2cc</text><text y="328">wol</text></g>

<g id="n_DPI_PKT_ERR_RSP" transform="translate(633,7338)"><rect class="f" x="-58" width="116" height="48"/><path class="b" d="M-58,24h116"/><text y="16">DPI_PKT_ERR_RSP</text><text y="40">pkterr</text></g>

<g id="n_AGL_GMX_TX_INT_REG" transform="translate(864,4436)"><rect class="f" x="-73.7" width="147.4" height="72"/><path class="b" d="M-73.7,24h147.4m-147.4,24h147.4"/><text y="16">AGL_GMX_TX_INT_REG</text><text y="40">pko_nxa</text><text y="64">undflw</text></g>

<g id="n_GMXX_RXX_INT_REG_1_0" transform="translate(864,4587)"><rect class="f" x="-77.5" width="155" height="336"/><path class="b" d="M-77.5,24h155m-155,24h155m-155,24h155m-155,24h155m-155,24h155m-155,24h155m-155,24h155m-155,24h155m-155,24h155m-155,24h155m-155,24h155m-155,24h155m-155,24h155"/><text y="16">GMXX_RXX_INT_REG(1,0)</text><text y="40">carext</text><text y="64">skperr</text><text y="88">ovrerr</text><text y="112">loc_fault</text><text y="136">rem_fault</text><text y="160">bad_seq</text><text y="184">bad_term</text><text y="208">unsop</text><text y="232">uneop</text><text y="256">undat</text><text y="280">hg2fld</text><text y="304">hg2cc</text><text y="328">wol</text></g>

<g id="n_GMXX_RXX_INT_REG_1_1" transform="translate(864,5413)"><rect class="f" x="-77.5" width="155" height="336"/><path class="b" d="M-77.5,24h155m-155,24h155m-155,24h155m-155,24h155m-155,24h155m-155,24h155m-155,24h155m-155,24h155m-155,24h155m-155,24h155m-155,24h155m-155,24h155m-155,24h155"/><text y="16">GMXX_RXX_INT_REG(1,1)</text><text y="40">carext</text><text y="64">skperr</text><text y="88">ovrerr</text><text y="112">loc_fault</text><text y="136">rem_fault</text><text y="160">bad_seq</text><text y="184">bad_term</text><text y="208">unsop</text><text y="232">uneop</text><text y="256">undat</text><text y="280">hg2fld</text><text y="304">hg2cc</text><text y="328">wol</text></g>

<g id="n_DPI_REQ_ERR_RSP" transform="translate(863.8,7389)"><rect class="f" x="-58.7" width="117.4" height="48"/><path class="b" d="M-58.7,24h117.4"/><text y="16">DPI_REQ_ERR_RSP</text><text y="40">qerr</text></g>

<g id="n_GMXX_RXX_INT_REG_2_0" transform="translate(1088,4637)"><rect class="f" x="-77.5" width="155" height="336"/><path class="b" d="M-77.5,24h155m-155,24h155m-155,24h155m-155,24h155m-155,24h155m-155,24h155m-155,24h155m-155,24h155m-155,24h155m-155,24h155m-155,24h155m-155,24h155m-155,24h155"/><text y="16">GMXX_RXX_INT_REG(2,0)</text><text y="40">carext</text><text y="64">skperr</text><text y="88">ovrerr</text><text y="112">loc_fault</text><text y="136">rem_fault</text><text y="160">bad_seq</text><text y="184">bad_term</text><text y="208">unsop</text><text y="232">uneop</text><text y="256">undat</text><text y="280">hg2fld</text><text y="304">hg2cc</text><text y="328">wol</text></g>

<g id="n_GMXX_RXX_INT_REG_2_1" transform="translate(1088,5464)"><rect class="f" x="-77.5" width="155" height="336"/><path class="b" d="M-77.5,24h155m-155,24h155m-155,24h155m-155,24h155m-155,24h155m-155,24h155m-155,24h155m-155,24h155m-155,24h155m-155,24h155m-155,24h155m-155,24h155m-155,24h155"/><text y="16">GMXX_RXX_INT_REG(2,1)</text><text y="40">carext</text><text y="64">skperr</text><text y="88">ovrerr</text><text y="112">loc_fault</text><text y="136">rem_fault</text><text y="160">bad_seq</text><text y="184">bad_term</text><text y="208">unsop</text><text y="232">uneop</text><text y="256">undat</text><text y="280">hg2fld</text><text y="304">hg2cc</text><text y="328">wol</text></g>

<g id="n_DPI_REQ_ERR_RST" transform="translate(1088.3,7433)"><rect class="f" x="-59.3" width="118.6" height="48"/><path class="b" d="M-59.3,24h118.6"/><text y="16">DPI_REQ_ERR_RST</text><text y="40">qerr</text></g>

<g id="n_GMXX_RXX_INT_REG_3_0" transform="translate(1312,4688)"><rect class="f" x="-77.5" width="155" height="336"/><path class="b" d="M-77.5,24h155m-155,24h155m-155,24h155m-155,24h155m-155,24h155m-155,24h155m-155,24h155m-155,24h155m-155,24h155m-155,24h155m-155,24h155m-155,24h155m-155,24h155"/><text y="16">GMXX_RXX_INT_REG(3,0)</text><text y="40">carext</text><text y="64">skperr</text><text y="88">ovrerr</text><text y="112">loc_fault</text><text y="136">rem_fault</text><text y="160">bad_seq</text><text y="184">bad_term</text><text y="208">unsop</text><text y="232">uneop</text><text y="256">undat</text><text y="280">hg2fld</text><text y="304">hg2cc</text><text y="328">wol</text></g>

<g id="n_GMXX_RXX_INT_REG_3_1" transform="translate(1312,5515)"><rect class="f" x="-77.5" width="155" height="336"/><path class="b" d="M-77.5,24h155m-155,24h155m-155,24h155m-155,24h155m-155,24h155m-155,24h155m-155,24h155m-155,24h155m-155,24h155m-155,24h155m-155,24h155m-155,24h155m-155,24h155"/><text y="16">GMXX_RXX_INT_REG(3,1)</text><text y="40">carext</text><text y="64">skperr</text><text y="88">ovrerr</text><text y="112">loc_fault</text><text y="136">rem_fault</text><text y="160">bad_seq</text><text y="184">bad_term</text><text y="208">unsop</text><text y="232">uneop</text><text y="256">undat</text><text y="280">hg2fld</text><text y="304">hg2cc</text><text y="328">wol</text></g>

<g id="n_GMXX_TX_INT_REG_0" transform="translate(1528,4957)"><rect class="f" x="-69.4" width="138.8" height="96"/><path class="b" d="M-69.4,24h138.8m-138.8,24h138.8m-138.8,24h138.8"/><text y="16">GMXX_TX_INT_REG(0)</text><text y="40">pko_nxa</text><text y="64">undflw</text><text y="88">ptp_lost</text></g>

<g id="n_GMXX_TX_INT_REG_1" transform="translate(1528,5794)"><rect class="f" x="-69.4" width="138.8" height="96"/><path class="b" d="M-69.4,24h138.8m-138.8,24h138.8m-138.8,24h138.8"/><text y="16">GMXX_TX_INT_REG(1)</text><text y="40">pko_nxa</text><text y="64">undflw</text><text y="88">ptp_lost</text></g>

<g id="n_PCSX_INTX_REG_0_0" transform="translate(1713.2,4885)"><rect class="f" x="-64.8" width="129.6" height="240"/><path class="b" d="M-64.8,24h129.6m-129.6,24h129.6m-129.6,24h129.6m-129.6,24h129.6m-129.6,24h129.6m-129.6,24h129.6m-129.6,24h129.6m-129.6,24h129.6m-129.6,24h129.6"/><text y="16">PCSX_INTX_REG(0,0)</text><text y="40">an_err</text><text y="64">txfifu</text><text y="88">txfifo</text><text y="112">txbad</text><text y="136">rxbad</text><text y="160">rxlock</text><text y="184">an_bad</text><text y="208">sync_bad</text><text y="232">dbg_sync</text></g>

<g id="n_PCSX_INTX_REG_0_1" transform="translate(1713.2,5722)"><rect class="f" x="-64.8" width="129.6" height="240"/><path class="b" d="M-64.8,24h129.6m-129.6,24h129.6m-129.6,24h129.6m-129.6,24h129.6m-129.6,24h129.6m-129.6,24h129.6m-129.6,24h129.6m-129.6,24h129.6m-129.6,24h129.6"/><text y="16">PCSX_INTX_REG(0,1)</text><text y="40">an_err</text><text y="64">txfifu</text><text y="88">txfifo</text><text y="112">txbad</text><text y="136">rxbad</text><text y="160">rxlock</text><text y="184">an_bad</text><text y="208">sync_bad</text><text y="232">dbg_sync</text></g>

<g id="n_PCSX_INTX_REG_1_0" transform="translate(1894.6,4946)"><rect class="f" x="-64.8" width="129.6" height="240"/><path class="b" d="M-64.8,24h129.6m-129.6,24h129.6m-129.6,24h129.6m-129.6,24h129.6m-129.6,24h129.6m-129.6,24h129.6m-129.6,24h129.6m-129.6,24h129.6m-129.6,24h129.6"/><text y="16">PCSX_INTX_REG(1,0)</text><text y="40">an_err</text><text y="64">txfifu</text><text y="88">txfifo</text><text y="112">txbad</text><text y="136">rxbad</text><text y="160">rxlock</text><text y="184">an_bad</text><text y="208">sync_bad</text><text y="232">dbg_sync</text></g>

<g id="n_PCSX_INTX_REG_1_1" transform="translate(1894.6,5784)"><rect class="f" x="-64.8" width="129.6" height="240"/><path class="b" d="M-64.8,24h129.6m-129.6,24h129.6m-129.6,24h129.6m-129.6,24h129.6m-129.6,24h129.6m-129.6,24h129.6m-129.6,24h129.6m-129.6,24h129.6m-129.6,24h129.6"/><text y="16">PCSX_INTX_REG(1,1)</text><text y="40">an_err</text><text y="64">txfifu</text><text y="88">txfifo</text><text y="112">txbad</text><text y="136">rxbad</text><text y="160">rxlock</text><text y="184">an_bad</text><text y="208">sync_bad</text><text y="232">dbg_sync</text></g>

<g id="n_PCSX_INTX_REG_2_0" transform="translate(2075.7,4997)"><rect class="f" x="-64.8" width="129.6" height="240"/><path class="b" d="M-64.8,24h129.6m-129.6,24h129.6m-129.6,24h129.6m-129.6,24h129.6m-129.6,24h129.6m-129.6,24h129.6m-129.6,24h129.6m-129.6,24h129.6m-129.6,24h129.6"/><text y="16">PCSX_INTX_REG(2,0)</text><text y="40">an_err</text><text y="64">txfifu</text><text y="88">txfifo</text><text y="112">txbad</text><text y="136">rxbad</text><text y="160">rxlock</text><text y="184">an_bad</text><text y="208">sync_bad</text><text y="232">dbg_sync</text></g>

<g id="n_PCSX_INTX_REG_2_1" transform="translate(2075.7,5835)"><rect class="f" x="-64.8" width="129.6" height="240"/><path class="b" d="M-64.8,24h129.6m-129.6,24h129.6m-129.6,24h129.6m-129.6,24h129.6m-129.6,24h129.6m-129.6,24h129.6m-129.6,24h129.6m-129.6,24h129.6m-129.6,24h129.6"/><text y="16">PCSX_INTX_REG(2,1)</text><text y="40">an_err</text><text y="64">txfifu</text><text y="88">txfifo</text><text y="112">txbad</text><text y="136">rxbad</text><text y="160">rxlock</text><text y="184">an_bad</text><text y="208">sync_bad</text><text y="232">dbg_sync</text></g>

<g id="n_PCSX_INTX_REG_3_0" transform="translate(2257.3,5059)"><rect class="f" x="-64.8" width="129.6" height="240"/><path class="b" d="M-64.8,24h129.6m-129.6,24h129.6m-129.6,24h129.6m-129.6,24h129.6m-129.6,24h129.6m-129.6,24h129.6m-129.6,24h129.6m-129.6,24h129.6m-129.6,24h129.6"/><text y="16">PCSX_INTX_REG(3,0)</text><text y="40">an_err</text><text y="64">txfifu</text><text y="88">txfifo</text><text y="112">txbad</text><text y="136">rxbad</text><text y="160">rxlock</text><text y="184">an_bad</text><text y="208">sync_bad</text><text y="232">dbg_sync</text></g>

<g id="n_PCSX_INTX_REG_3_1" transform="translate(2257.3,5952)"><rect class="f" x="-64.8" width="129.6" height="240"/><path class="b" d="M-64.8,24h129.6m-129.6,24h129.6m-129.6,24h129.6m-129.6,24h129.6m-129.6,24h129.6m-129.6,24h129.6m-129.6,24h129.6m-129.6,24h129.6m-129.6,24h129.6"/><text y="16">PCSX_INTX_REG(3,1)</text><text y="40">an_err</text><text y="64">txfifu</text><text y="88">txfifo</text><text y="112">txbad</text><text y="136">rxbad</text><text y="160">rxlock</text><text y="184">an_bad</text><text y="208">sync_bad</text><text y="232">dbg_sync</text></g>

<g id="n_PCSXX_INT_REG_0" transform="translate(2434.5,5194)"><rect class="f" x="-60.8" width="121.6" height="192"/><path class="b" d="M-60.8,24h121.6m-121.6,24h121.6m-121.6,24h121.6m-121.6,24h121.6m-121.6,24h121.6m-121.6,24h121.6m-121.6,24h121.6"/><text y="16">PCSXX_INT_REG(0)</text><text y="40">txflt</text><text y="64">rxbad</text><text y="88">rxsynbad</text><text y="112">bitlckls</text><text y="136">synlos</text><text y="160">algnlos</text><text y="184">dbg_sync</text></g>
</g>
</svg>
